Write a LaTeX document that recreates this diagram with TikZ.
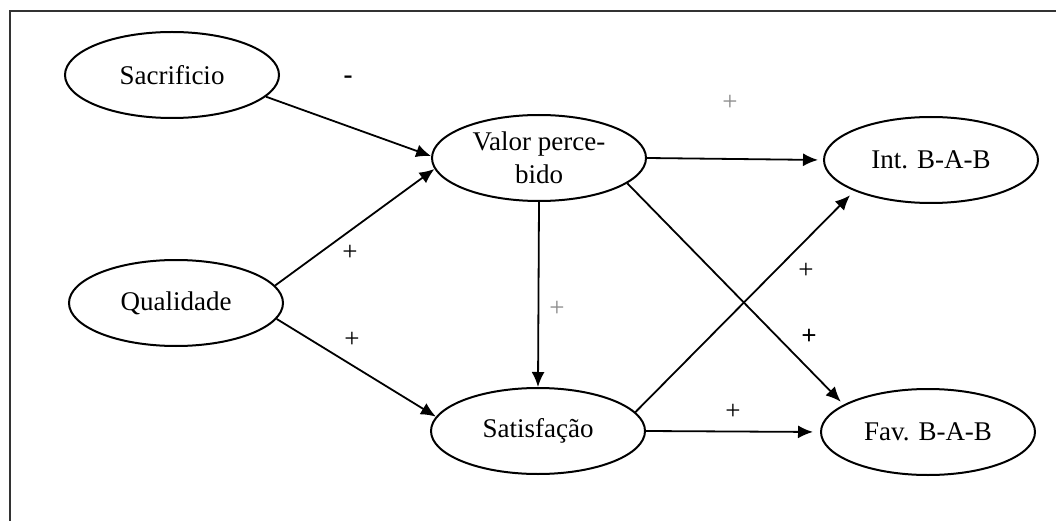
\documentclass[tikz,border=0pt]{standalone}
\usepackage{fontspec}
\setmainfont{Liberation Serif}
\usetikzlibrary{arrows.meta,shapes.geometric}
\begin{document}
\begin{tikzpicture}[x=1pt,y=-1pt,
  ell/.style={ellipse,draw,line width=2pt,minimum width=214pt,minimum height=86pt,inner sep=0pt,font=\fontsize{27}{33}\selectfont,align=center},
  conn/.style={line width=1.8pt,-{Latex[length=15pt,width=13pt]}},
  sign/.style={font=\fontsize{27}{30}\selectfont,inner sep=0pt},
  lightsign/.style={sign,text=black!45}]
\useasboundingbox (0,0) rectangle (1056,521);
\draw[line width=2pt,black!80] (10,521) -- (10,11) -- (1056,11);

\node[ell] (sac) at (172,75) {Sacrificio};
\node[ell] (val) at (539,158) {Valor perce-\\bido};
\node[ell] (int) at (931,160) {Int. B-A-B};
\node[ell] (qua) at (176,303) {Qualidade};
\node[ell] (sat) at (538,431) {Satisfação};
\node[ell] (fav) at (928,432) {Fav. B-A-B};

\draw[conn] (sac.-13) -- (val.179);
\draw[conn] (qua.10) -- (val.186);
\draw[conn] (qua.-9) -- (sat.172);
\draw[conn] (val.south) -- (sat.north);
\draw[conn,shorten >=5pt] (val.east) -- (int.west);
\draw[conn,shorten >=4pt] (val.-16) -- (fav.162);
\draw[conn,shorten >=6pt] (sat.11) -- (int.202);
\draw[conn,shorten >=7pt] (sat.east) -- (fav.west);

\node[sign] (m1) at (348,80) {\textbf{-}};
\node[lightsign] (p1) at (730,103) {+};
\node[sign] (p2) at (350,253) {+};
\node[sign] (p3) at (352,340) {+};
\node[lightsign] (p4) at (557,309) {+};
\node[sign] (p5) at (806,271) {+};
\node[sign] (p6) at (809,337) {\textbf{+}};
\node[sign] (p7) at (733,412) {+};
\end{tikzpicture}
\end{document}
